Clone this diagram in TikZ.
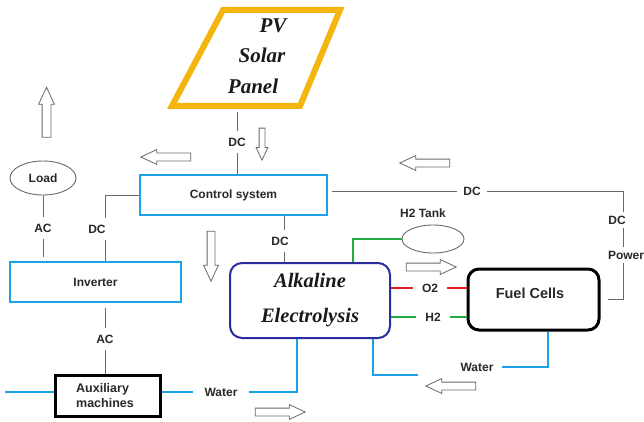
\documentclass[tikz,border=0pt]{standalone}
\usepackage{fontspec}
\setmainfont{Liberation Serif}
\setsansfont{Liberation Sans}
\usetikzlibrary{shapes.geometric,shapes.arrows}
\definecolor{pvorange}{RGB}{244,182,14}
\definecolor{cblue}{RGB}{28,162,230}
\definecolor{eblue}{RGB}{42,44,160}
\definecolor{cgreen}{RGB}{30,172,64}
\definecolor{cred}{RGB}{232,28,36}
\definecolor{lgray}{RGB}{105,105,105}
\definecolor{tgray}{RGB}{40,40,40}
\begin{document}
\begin{tikzpicture}[x=1pt,y=-1pt,
  lbl/.style={font=\sffamily\bfseries\fontsize{12}{13}\selectfont, text=tgray, inner xsep=6pt, inner ysep=7pt},
  conn/.style={draw=lgray, line width=0.9pt},
  wline/.style={draw=cblue, line width=2pt},
  gline/.style={draw=cgreen, line width=2pt},
  rline/.style={draw=cred, line width=2pt},
  bluebox/.style={draw=cblue, line width=2pt, fill=white, font=\sffamily\bfseries\fontsize{12}{13}\selectfont, text=tgray},
  blackbox/.style={draw=black, line width=3pt, fill=white, font=\sffamily\bfseries\fontsize{12.5}{15}\selectfont, text=tgray},
  ser/.style={font=\rmfamily\bfseries\itshape\fontsize{21}{24}\selectfont, text=black!90},
  oval/.style={ellipse, draw=lgray, line width=0.9pt, inner sep=0pt},
  harrow/.style={single arrow, draw=lgray, line width=0.8pt, fill=white, inner xsep=0pt, inner ysep=3.5pt, single arrow head extend=3.5pt, single arrow tip angle=50, minimum height=50pt}
]
\useasboundingbox (0,0) rectangle (644,422);

% PV panel
\draw[pvorange, line width=6pt, line join=miter] (223,10) -- (340,10) -- (300,106) -- (172,106) -- cycle;
\coordinate (pvb) at (237,106);
\node[ser] (pvt1) at (273,26) {PV};
\node[ser] (pvt2) at (262,55) {Solar};
\node[ser] (pvt3) at (253,86) {Panel};

% boxes
\node[bluebox, minimum width=187pt, minimum height=40pt] (ctrl) at (233.5,195) {Control system};
\node[bluebox, minimum width=171pt, minimum height=40pt] (inv) at (95.5,282) {Inverter};
\node[blackbox, minimum width=104.5pt, minimum height=41pt, align=left] (aux) at (108,395.5) {\hspace*{-6pt}Auxiliary\\\hspace*{-6pt}machines};
\node[draw=eblue, line width=2pt, rounded corners=12pt, minimum width=160pt, minimum height=75pt, align=center,
      font=\rmfamily\bfseries\itshape\fontsize{20.5}{35}\selectfont, text=black!90] (elec) at (310,300.5) {Alkaline\\Electrolysis};
\node[draw=black, line width=3pt, rounded corners=11pt, minimum width=131pt, minimum height=61pt] (fuel) at (533.5,299.5) {};
\node[font=\sffamily\bfseries\fontsize{14.5}{16}\selectfont, text=tgray] (fuelt) at (530,293) {Fuel Cells};
\node[oval, minimum width=66pt, minimum height=34pt, font=\sffamily\bfseries\fontsize{12}{13}\selectfont, text=tgray] (load) at (43,178) {Load};
\node[oval, minimum width=62pt, minimum height=28pt] (tank) at (433,239) {};
\node[lbl] (tankl) at (423,213) {H2 Tank};

% labels
\node[lbl] (dcA) at (237,142) {DC};
\node[lbl] (dcB) at (97,229) {DC};
\node[lbl] (acA) at (43,228) {AC};
\node[lbl] (acB) at (105,339) {AC};
\node[lbl] (dcC) at (280,241) {DC};
\node[lbl] (dcD) at (472,191) {DC};
\node[lbl, inner ysep=4pt] (dcE) at (617,220) {DC};
\node[lbl, inner ysep=4pt] (pow) at (626,255) {Power};
\node[lbl, inner xsep=9pt] (o2) at (430,288) {O2};
\node[lbl, inner xsep=9pt] (h2) at (433,317) {H2};
\node[lbl, inner xsep=11pt] (w1) at (221,392) {Water};
\node[lbl, inner xsep=8pt] (w2) at (477,367) {Water};
\coordinate (wl) at (5,392);
\coordinate (wend) at (418,375);

% grey connectors
\draw[conn, shorten <=6pt] (pvb) -- (dcA);
\draw[conn] (dcA) -- (dcA |- ctrl.north);
\draw[conn] (ctrl.west) -| ([xshift=8pt]dcB.north);
\draw[conn] ([xshift=8pt]dcB.south) -- ([xshift=8pt]dcB.south |- inv.north);
\draw[conn] (load) -- (acA);
\draw[conn, shorten >=4pt] (acA) -- (acA |- inv.north);
\draw[conn, shorten <=5pt] (acB |- inv.south) -- (acB);
\draw[conn] (acB) -- (acB |- aux.north);
\draw[conn] ([xshift=4pt]dcC.north |- ctrl.south) -- ([xshift=4pt]dcC.north);
\draw[conn] ([xshift=4pt]dcC.south) -- ([xshift=4pt]dcC.south |- elec.north);
\draw[conn, shorten <=4pt] (ctrl.east |- dcD) -- (dcD);
\draw[conn] (dcD) -| ([xshift=6pt]dcE.north);
\draw[conn] ([xshift=6pt]dcE.south) -- ([xshift=-3pt]pow.north);
\draw[conn, shorten >=7pt] ([xshift=-3pt]pow.south) |- (fuel.east);

% gas lines
\draw[gline] ([xshift=43pt]elec.north) |- (tank.west);
\draw[rline] (elec.east |- o2) -- (o2);
\draw[rline] (o2) -- (o2 -| fuel.west);
\draw[gline] (elec.east |- h2) -- (h2);
\draw[gline] (h2) -- (h2 -| fuel.west);

% water lines
\draw[wline] (wl) -- (aux.west |- wl);
\draw[wline] (aux.east |- w1) -- (w1);
\draw[wline] (w1) -| ([xshift=-13pt]elec.south);
\draw[wline] ([xshift=14.5pt]fuel.south) |- (w2);
\draw[wline] ([xshift=63pt]elec.south) |- (wend);

% hollow arrows
\node[harrow, rotate=180] (a1) at (170,157) {};
\node[harrow, rotate=90, inner ysep=4pt] (a2) at (46.5,117) {};
\node[harrow, rotate=-90, minimum height=32pt, inner ysep=2.5pt, single arrow head extend=3pt] (a3) at (262,141) {};
\node[harrow, rotate=-90] (a4) at (211,252) {};
\node[harrow] (a5) at (427,267) {};
\node[harrow, rotate=180] (a6) at (429,163) {};
\node[harrow] (a7) at (276,412) {};
\node[harrow, rotate=180] (a8) at (455,386) {};
\end{tikzpicture}
\end{document}
